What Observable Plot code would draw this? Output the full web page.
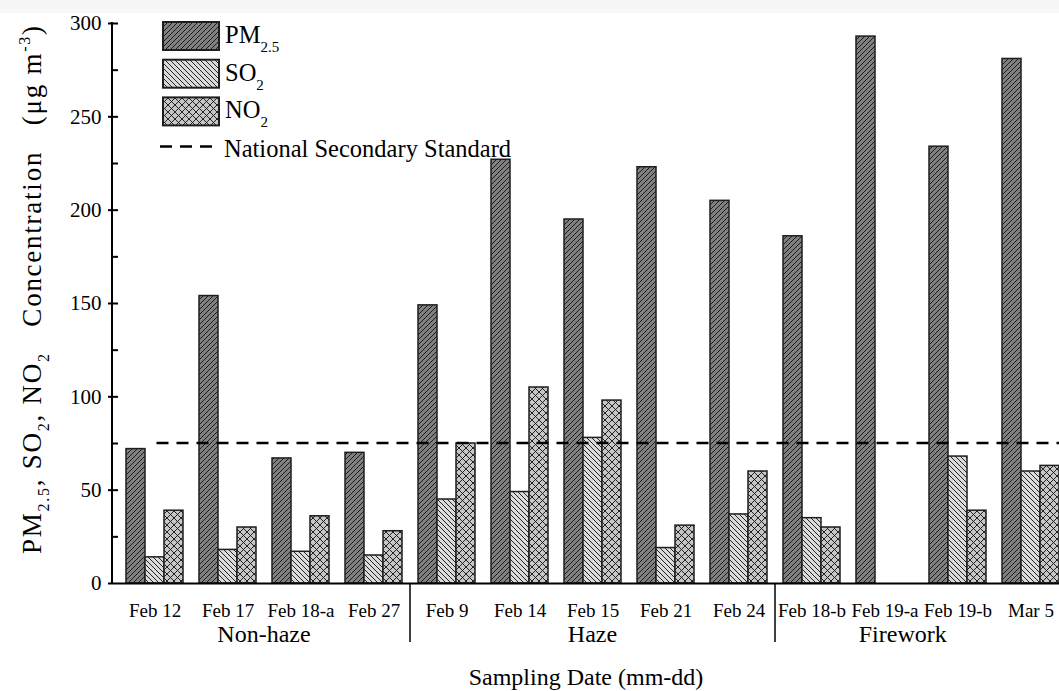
<!DOCTYPE html>
<html><head><meta charset="utf-8">
<script src="https://cdn.jsdelivr.net/npm/d3@7"></script>
<script src="https://cdn.jsdelivr.net/npm/@observablehq/plot@0.6"></script>
<style>
html,body{margin:0;padding:0;background:#fff;overflow:hidden;}
#chart svg{max-width:none !important;}
</style></head><body><div id="chart"></div><script>
// ---- data ----
const categories = ["Feb 12","Feb 17","Feb 18-a","Feb 27","Feb 9","Feb 14","Feb 15","Feb 21","Feb 24","Feb 18-b","Feb 19-a","Feb 19-b","Mar 5"];
const groups = ["Non-haze","Non-haze","Non-haze","Non-haze","Haze","Haze","Haze","Haze","Haze","Firework","Firework","Firework","Firework"];
const groupNames = ["Non-haze","Haze","Firework"];
const seriesKeys = ["PM2.5","SO2","NO2"];
const pm25 = [72,154,67,70,149,227,195,223,205,186,293,234,281];
const so2  = [14,18,17,15,45,49,78,19,37,35,null,68,60];
const no2  = [39,30,36,28,75,105,98,31,60,30,null,39,63];
const standard = 75;
const yTicks = [0,50,100,150,200,250,300];
const yMinorTicks = [25,75,125,175,225,275];
const yTitleParts = [["PM","n"],["2.5","sub"],[", SO","n"],["2","sub"],[", NO","n"],["2","sub"],["   Concentration   (μg m","n"],["-3","sup"],[")","n"]];
const xTitle = "Sampling Date (mm-dd)";
const legendItems = [
  {key:"PM2.5", parts:[["PM","n"],["2.5","sub"]]},
  {key:"SO2", parts:[["SO","n"],["2","sub"]]},
  {key:"NO2", parts:[["NO","n"],["2","sub"]]}
];
const standardLabel = "National Secondary Standard";

const seriesValues = {"PM2.5": pm25, "SO2": so2, "NO2": no2};
const rows = [];
categories.forEach((c, i) => {
  seriesKeys.forEach(k => {
    const v = seriesValues[k][i];
    if (v != null) rows.push({cat: c, group: groups[i], pol: k, value: v});
  });
});

const FONT = "'Liberation Serif','Times New Roman',Times,serif";
const fills = {"PM2.5": "url(#pat-pm)", "SO2": "url(#pat-so2)", "NO2": "url(#pat-no2)"};
const OUTLINE = "#1e1e1e";

const plot = Plot.plot({
  width: 1072, height: 691,
  marginLeft: 112, marginRight: 0, marginTop: 23, marginBottom: 108,
  style: {fontFamily: FONT, background: "transparent", color: "black", overflow: "visible"},
  fx: {domain: categories, paddingInner: 0, paddingOuter: 0, label: null, axis: null},
  x: {domain: seriesKeys, paddingInner: 0, paddingOuter: 0.345, axis: null},
  y: {domain: [0, 300], axis: null},
  marks: [
    ...seriesKeys.map(k => Plot.barY(rows.filter(r => r.pol === k), {fx: "cat", x: "pol", y: "value", fill: fills[k], stroke: OUTLINE, strokeWidth: 1.5})),
    Plot.ruleY([0], {stroke: "black", strokeWidth: 2}),
    Plot.axisY(yTicks, {anchor: "left", tickSize: 10, tickPadding: 7, fontSize: 21, strokeWidth: 2, label: null}),
    Plot.axisY(yMinorTicks, {anchor: "left", tickSize: 6, tickFormat: () => "", strokeWidth: 2, label: null}),
    Plot.axisFx({anchor: "bottom", tickSize: 0, tickPadding: 20, fontSize: 19, label: null})
  ]
});
document.getElementById("chart").appendChild(plot);

// ---- post-render decorations using Plot's scales ----
const svg = d3.select(plot);
const fx = plot.scale("fx"), y = plot.scale("y");
const xLeft = fx.range[0], xRight = fx.range[1];
const y0 = y.apply(0), yTop = y.apply(300);

// faint top band
svg.insert("rect", ":first-child").attr("x", 0).attr("y", 0).attr("width", 1072).attr("height", 13).attr("fill", "#f7f7f7");

const defs = svg.insert("defs", ":first-child");
function hatch(id, bg, size, dirs, sw) {
  const p = defs.append("pattern").attr("id", id).attr("patternUnits", "userSpaceOnUse")
    .attr("width", size).attr("height", size);
  p.append("rect").attr("width", size).attr("height", size).attr("fill", bg);
  const s = size;
  dirs.forEach(d => {
    const path = d === "/" ? `M0,${s} L${s},0 M${-s/2},${s/2} L${s/2},${-s/2} M${s/2},${s*1.5} L${s*1.5},${s/2}`
                           : `M0,0 L${s},${s} M${-s/2},${s/2} L${s/2},${s*1.5} M${s/2},${-s/2} L${s*1.5},${s/2}`;
    p.append("path").attr("d", path).attr("stroke", "#111").attr("stroke-width", sw).attr("fill", "none");
  });
}
hatch("pat-pm", "#808080", 5, ["/"], 0.9);
hatch("pat-so2", "#dadada", 5, ["\\"], 0.9);
hatch("pat-no2", "#c6c6c6", 7, ["/", "\\"], 0.9);

const g = svg.append("g").attr("font-family", FONT).attr("fill", "black").attr("text-anchor", "start").attr("font-size", 24);

// y axis line
g.append("line").attr("x1", xLeft).attr("x2", xLeft).attr("y1", y0 + 1).attr("y2", yTop - 1)
  .attr("stroke", "black").attr("stroke-width", 2);

// standard dashed line
g.append("line").attr("x1", fx.apply(categories[0]) + fx.bandwidth / 2 + 2).attr("x2", xRight)
  .attr("y1", y.apply(standard)).attr("y2", y.apply(standard))
  .attr("stroke", "black").attr("stroke-width", 2.5).attr("stroke-dasharray", "12 8");

// group separators and labels
groupNames.forEach((name, gi) => {
  const first = groups.indexOf(name), last = groups.lastIndexOf(name);
  const start = fx.apply(categories[first]);
  const end = gi === groupNames.length - 1 ? fx.apply(categories[last]) + fx.bandwidth / 2 : fx.apply(categories[last]) + fx.bandwidth;
  if (gi > 0) {
    g.append("line").attr("x1", start).attr("x2", start).attr("y1", y0).attr("y2", y0 + 59)
      .attr("stroke", "black").attr("stroke-width", 1.5);
  }
  g.append("text").attr("x", (start + end) / 2).attr("y", y0 + 59).attr("text-anchor", "middle")
    .attr("font-size", 24).text(name);
});

function rich(sel, parts, subSize, subShift, supShift) {
  let shift = 0;
  parts.forEach(([t, k]) => {
    const target = k === "sub" ? subShift : k === "sup" ? supShift : 0;
    const ts = sel.append("tspan").attr("dy", target - shift).text(t);
    if (k !== "n") ts.attr("font-size", subSize);
    shift = target;
  });
}

// x title
g.append("text").attr("x", (xLeft + xRight) / 2 - 6).attr("y", 685).attr("text-anchor", "middle")
  .attr("font-size", 24).text(xTitle);

// y title
const yt = g.append("text").attr("transform", `translate(41,290) rotate(-90)`)
  .attr("text-anchor", "middle").attr("font-size", 27).style("white-space", "pre")
  .attr("textLength", 528).attr("lengthAdjust", "spacing");
rich(yt, yTitleParts, 16, 8, -11);

// legend
const lx = 163, ly = 22, sw = 56, sh = 28, step = 37.7;
legendItems.forEach((it, i) => {
  g.append("rect").attr("x", lx).attr("y", ly + i * step).attr("width", sw).attr("height", sh)
    .attr("fill", fills[it.key]).attr("stroke", OUTLINE).attr("stroke-width", 2);
  const t = g.append("text").attr("x", lx + sw + 6).attr("y", ly + i * step + 21).attr("font-size", 24.5).attr("text-anchor", "start");
  rich(t, it.parts, 15, 9, -9);
});
g.append("line").attr("x1", lx - 3).attr("x2", lx + 49).attr("y1", 146.5).attr("y2", 146.5)
  .attr("stroke", "black").attr("stroke-width", 2.5).attr("stroke-dasharray", "12 8");
g.append("text").attr("x", lx + 61).attr("y", 156.5).attr("font-size", 24.5).attr("text-anchor", "start").text(standardLabel);
</script></body></html>
